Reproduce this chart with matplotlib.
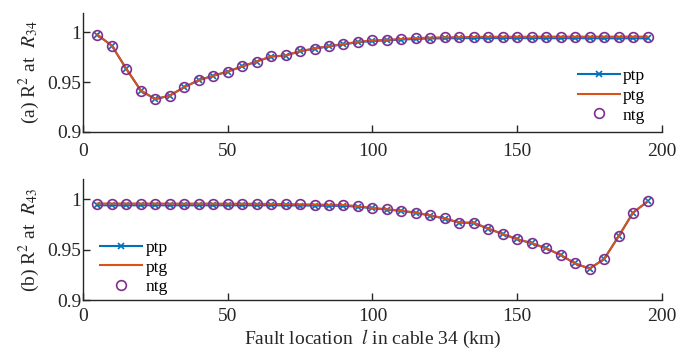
import numpy as np
import matplotlib
matplotlib.use('agg')
import matplotlib.pyplot as plt

plt.rcParams['font.family'] = ['Liberation Serif', 'DejaVu Serif']
plt.rcParams['mathtext.fontset'] = 'stix'

# fault location (km)
loc = np.arange(5, 200, 5)

# (a) R^2 at R34
a_ptg = [0.9977, 0.9866, 0.9633, 0.9414, 0.9327, 0.9364, 0.9448, 0.9519, 0.9563, 0.9606,
         0.9657, 0.9707, 0.9758, 0.9768, 0.9812, 0.9838, 0.9863, 0.9883, 0.9906, 0.9919,
         0.9926, 0.9935, 0.9943, 0.9948, 0.9951, 0.9953, 0.9955, 0.9956, 0.9957, 0.9957,
         0.9957, 0.9958, 0.9958, 0.9958, 0.9958, 0.9958, 0.9958, 0.9958, 0.9958]
a_ptp = [0.9977, 0.9866, 0.9633, 0.9414, 0.9327, 0.9364, 0.9448, 0.9519, 0.9563, 0.9606,
         0.9657, 0.9707, 0.9757, 0.9767, 0.9811, 0.9836, 0.9861, 0.9880, 0.9902, 0.9914,
         0.9920, 0.9928, 0.9935, 0.9939, 0.9941, 0.9942, 0.9943, 0.9943, 0.9943, 0.9943,
         0.9942, 0.9942, 0.9942, 0.9942, 0.9942, 0.9941, 0.9941, 0.9941, 0.9941]
a_ntg = [0.9977, 0.9866, 0.9633, 0.9414, 0.9327, 0.9364, 0.9448, 0.9519, 0.9563, 0.9606,
         0.9657, 0.9707, 0.9758, 0.9768, 0.9812, 0.9838, 0.9863, 0.9883, 0.9906, 0.9919,
         0.9926, 0.9935, 0.9943, 0.9948, 0.9951, 0.9953, 0.9955, 0.9956, 0.9957, 0.9957,
         0.9957, 0.9958, 0.9958, 0.9958, 0.9958, 0.9958, 0.9958, 0.9958, 0.9958]

# (b) R^2 at R43
b_ptg = [0.9960, 0.9960, 0.9960, 0.9960, 0.9960, 0.9959, 0.9959, 0.9959, 0.9959, 0.9958,
         0.9958, 0.9957, 0.9956, 0.9954, 0.9952, 0.9950, 0.9947, 0.9946, 0.9933, 0.9916,
         0.9903, 0.9889, 0.9869, 0.9842, 0.9812, 0.9771, 0.9768, 0.9711, 0.9657, 0.9606,
         0.9566, 0.9515, 0.9448, 0.9364, 0.9313, 0.9408, 0.9633, 0.9869, 0.9980]
b_ptp = [0.9942, 0.9942, 0.9942, 0.9942, 0.9942, 0.9942, 0.9942, 0.9942, 0.9942, 0.9942,
         0.9942, 0.9942, 0.9942, 0.9941, 0.9940, 0.9939, 0.9937, 0.9936, 0.9928, 0.9912,
         0.9900, 0.9886, 0.9867, 0.9840, 0.9810, 0.9770, 0.9767, 0.9710, 0.9656, 0.9605,
         0.9565, 0.9515, 0.9448, 0.9364, 0.9313, 0.9408, 0.9633, 0.9869, 0.9980]
b_ntg = b_ptg

xticks = [0, 50, 100, 150, 200]
yticks = [0.9, 0.95, 1.0]
yticklabels = ['0.9', '0.95', '1']

blue = '#0072BD'
orange = '#D95319'
purple = '#7E2F8E'
axcol = '#262626'

fig = plt.figure(figsize=(6.91, 3.51), dpi=100)
ax1 = fig.add_axes([0.120, 0.625, 0.838, 0.339])
ax2 = fig.add_axes([0.120, 0.145, 0.838, 0.344])

# (axes, ptp, ptg, ntg, ylabel, legend loc, legend anchor (fig frac), x tick pad)
panels = [(ax1, a_ptp, a_ptg, a_ntg, '(a) R$^2$ at  $R_{34}$', 'center right', (0.934, 0.727), 8),
          (ax2, b_ptp, b_ptg, b_ntg, '(b) R$^2$ at  $R_{43}$', 'center left', (0.145, 0.238), 6)]

for ax, ptp, ptg, ntg, ylab, loc_leg, anchor, xpad in panels:
    ax.plot(loc, ptp, color=blue, marker='x', markersize=4, markeredgewidth=1.2,
            linewidth=1.5, label='ptp', zorder=2)
    ax.plot(loc, ptg, color=orange, linewidth=1.5, label='ptg', zorder=3)
    ax.plot(loc, ntg, linestyle='none', marker='o', markersize=7, markerfacecolor='none',
            markeredgecolor=purple, markeredgewidth=1.2, label='ntg', zorder=4)
    ax.set_xlim(0, 200)
    ax.set_ylim(0.9, 1.02)
    ax.set_xticks(xticks)
    ax.set_yticks(yticks)
    ax.set_yticklabels(yticklabels)
    ax.tick_params(direction='in', length=5, width=1, colors=axcol, labelsize=14)
    ax.tick_params(axis='x', pad=xpad)
    ax.tick_params(axis='y', pad=1)
    ax.spines['top'].set_visible(False)
    ax.spines['right'].set_visible(False)
    for s in ['left', 'bottom']:
        ax.spines[s].set_color(axcol)
        ax.spines[s].set_linewidth(1)
    ax.set_ylabel(ylab, fontsize=14, color=axcol, labelpad=4)
    ax.legend(loc=loc_leg, bbox_to_anchor=anchor, bbox_transform=fig.transFigure,
              frameon=False, fontsize=12.5, handlelength=2.4, handletextpad=0.2,
              labelspacing=0.2, borderaxespad=0, borderpad=0)

ax2.set_xlabel('Fault location  $l$ in cable 34 (km)', fontsize=14, color=axcol, labelpad=2)

fig.savefig('out.png', dpi=100)
